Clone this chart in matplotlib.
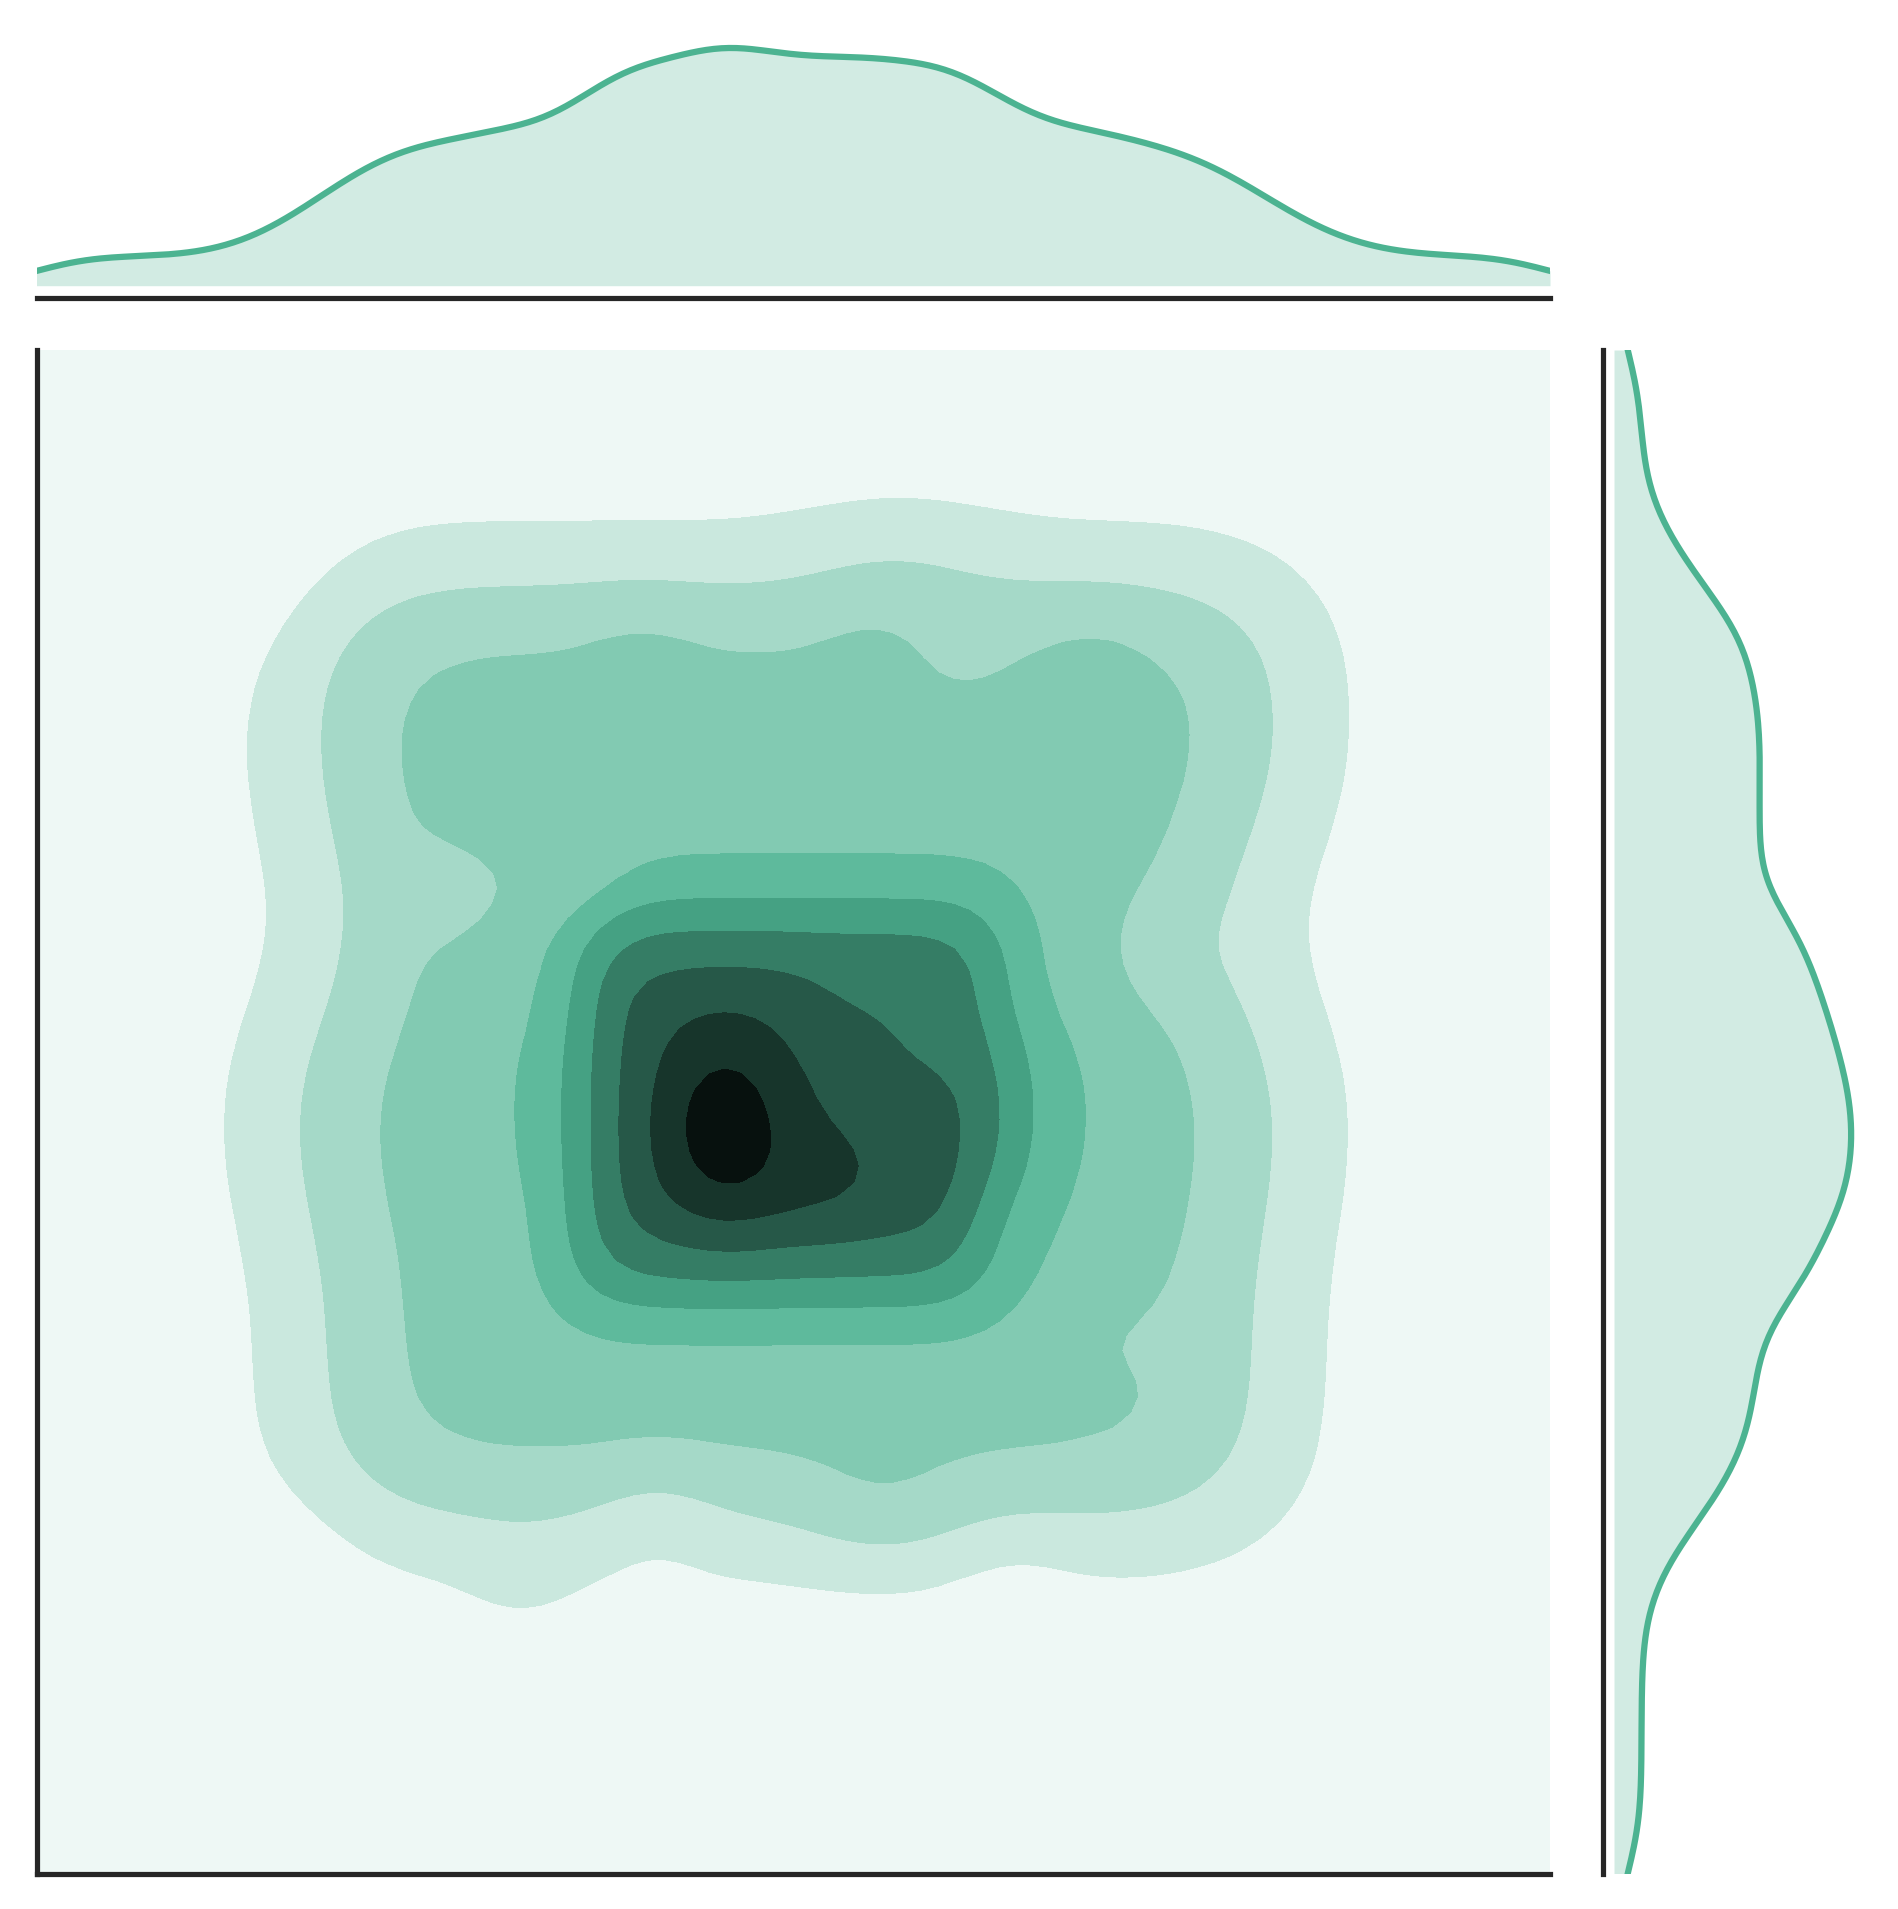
import math
import colorsys

import matplotlib
matplotlib.use("Agg")
import matplotlib.pyplot as plt
from matplotlib.colors import LinearSegmentedColormap, to_rgb
import numpy as np

# joint density of the sample (x, y scaled to 0..1)
# soft edged blocks: x range, y range, height, edge softness in x and y
block_x0 = [0.0, 0.19, 0.168, 0.205, 0.183, 0.335, 0.305, 0.36, 0.357, 0.357, 0.357, 0.384, 0.384, 0.384]
block_x1 = [1.0, 0.805, 0.822, 0.785, 0.822, 0.69, 0.71, 0.66, 0.625, 0.649, 0.635, 0.612, 0.56, 0.515]
block_y0 = [0.0, 0.233, 0.43, 0.56, 0.68, 0.355, 0.45, 0.56, 0.378, 0.45, 0.55, 0.425, 0.52, 0.558]
block_y1 = [1.0, 0.43, 0.56, 0.68, 0.847, 0.45, 0.56, 0.673, 0.45, 0.55, 0.631, 0.52, 0.558, 0.588]
block_h = [0.45, 3.0, 3.0, 3.0, 3.0, 0.7, 0.7, 0.7, 2.6, 2.6, 2.6, 0.9, 0.9, 0.9]
block_sx = [0.03, 0.052, 0.052, 0.052, 0.052, 0.03, 0.03, 0.03, 0.025, 0.025, 0.025, 0.02, 0.02, 0.02]
block_sy = [0.03, 0.045, 0.045, 0.045, 0.045, 0.03, 0.03, 0.03, 0.025, 0.025, 0.025, 0.02, 0.02, 0.02]

# round bumps (negative height = dent)
bump_x = [0.455, 0.52, 0.275, 0.745, 0.70, 0.56, 0.57, 0.355, 0.14, 0.16, 0.32, 0.41, 0.645,
          0.40, 0.555, 0.61, 0.70]
bump_y = [0.49, 0.455, 0.645, 0.605, 0.355, 0.235, 0.87, 0.655, 0.86, 0.20, 0.19, 0.235, 0.19,
          0.815, 0.815, 0.79, 0.812]
bump_h = [1.95, 0.5, -0.55, -0.4, -0.4, 0.6, 0.4, -0.5, -0.35, -0.3, 0.3, -0.45, -0.25,
          0.25, 0.25, -0.25, 0.2]
bump_sx = [0.031, 0.03, 0.028, 0.03, 0.035, 0.04, 0.05, 0.028, 0.05, 0.04, 0.03, 0.03, 0.03,
           0.03, 0.03, 0.03, 0.03]
bump_sy = [0.045, 0.03, 0.024, 0.03, 0.035, 0.03, 0.03, 0.028, 0.05, 0.04, 0.03, 0.03, 0.03,
           0.025, 0.025, 0.025, 0.025]

color = "#4CB391"
n_levels = 10
gridsize = 100

erf = np.vectorize(math.erf)


def phi(t):
    return 0.5 * (1.0 + erf(t / math.sqrt(2.0)))


def block_1d(t, lo, hi, soft):
    return phi((t - lo) / soft) - phi((t - hi) / soft)


def bump_1d(t, c, soft):
    return np.exp(-0.5 * ((t - c) / soft) ** 2)


def parts(tx, ty):
    out = []
    for x0, x1, y0, y1, h, sx, sy in zip(block_x0, block_x1, block_y0, block_y1,
                                         block_h, block_sx, block_sy):
        out.append((h, block_1d(tx, x0, x1, sx), block_1d(ty, y0, y1, sy)))
    for xc, yc, h, sx, sy in zip(bump_x, bump_y, bump_h, bump_sx, bump_sy):
        out.append((h, bump_1d(tx, xc, sx), bump_1d(ty, yc, sy)))
    return out


# joint grid
gx = np.linspace(0, 1, gridsize)
gy = np.linspace(0, 1, gridsize)
z = np.zeros((gridsize, gridsize))
for h, fx, fy in parts(gx, gy):
    z += h * np.outer(fy, fx)

# marginals
t = np.linspace(0, 1, 401)
mx = np.zeros_like(t)
my = np.zeros_like(t)
for h, fx, fy in parts(t, t):
    mx += h * fx * np.trapezoid(fy, t)
    my += h * fy * np.trapezoid(fx, t)

# colormap from white through the colour to black
rgb = to_rgb(color)
hh, ll, ss = colorsys.rgb_to_hls(*rgb)
ramp = [colorsys.hls_to_rgb(hh, l, ss) for l in np.linspace(1, 0, 12)]
cmap = LinearSegmentedColormap.from_list("blend", ramp)

W, H = 1898, 1909
fig = plt.figure(figsize=(W / 300, H / 300), dpi=300)
edge = "#262626"

ax_joint = fig.add_axes([36.5 / W, 35.5 / H, 1513.5 / W, 1523.5 / H])
ax_mx = fig.add_axes([36.5 / W, (H - 285.7) / H, 1513.5 / W, 249.6 / H])
ax_my = fig.add_axes([1614 / W, 35.5 / H, 249 / W, 1523.5 / H])

levels = np.linspace(0, z.max() / 0.96, n_levels + 1)
ax_joint.contourf(gx, gy, z, levels=levels, cmap=cmap)
ax_joint.set_xlim(0, 1)
ax_joint.set_ylim(0, 1)

ax_mx.fill_between(t, 0, mx, color=color, alpha=0.25, lw=0)
ax_mx.plot(t, mx, color=color, lw=1.5)
ax_mx.set_xlim(0, 1)
ax_mx.set_ylim(0, mx.max() * 1.05)

ax_my.fill_betweenx(t, 0, my, color=color, alpha=0.25, lw=0)
ax_my.plot(my, t, color=color, lw=1.5)
ax_my.set_ylim(0, 1)
ax_my.set_xlim(0, my.max() * 1.05)

for ax in (ax_joint, ax_mx, ax_my):
    ax.set_xticks([])
    ax.set_yticks([])
    for side in ax.spines:
        ax.spines[side].set_visible(False)
        ax.spines[side].set_color(edge)
        ax.spines[side].set_linewidth(1.25)
    ax.patch.set_alpha(0)

ax_joint.spines["left"].set_visible(True)
ax_joint.spines["bottom"].set_visible(True)
ax_mx.spines["bottom"].set_visible(True)
ax_mx.spines["bottom"].set_position(("outward", 3.0))
ax_my.spines["left"].set_visible(True)
ax_my.spines["left"].set_position(("outward", 2.76))

fig.savefig("out.png", dpi=300)
